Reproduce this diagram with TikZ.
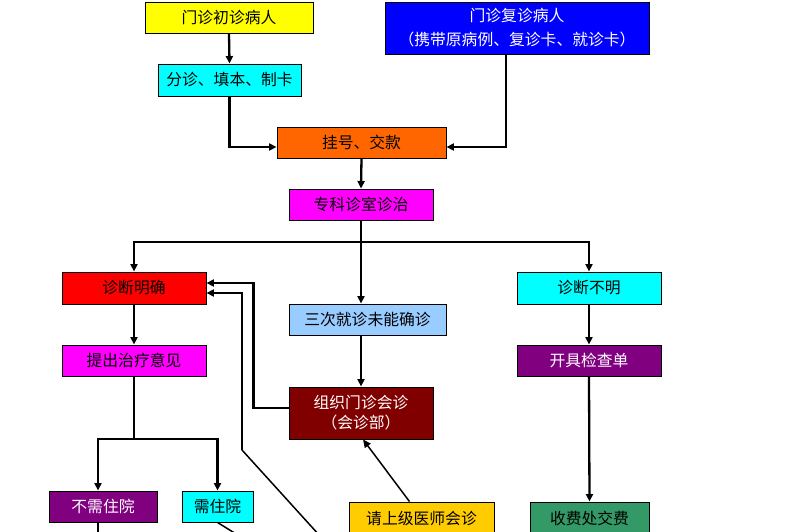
\documentclass[tikz,border=0pt]{standalone}
\usepackage{fontspec}
\newfontfamily\cjk{Noto Sans CJK SC}
\usetikzlibrary{arrows.meta}
\definecolor{cyellow}{HTML}{FFFF00}
\definecolor{ccyan}{HTML}{00FFFF}
\definecolor{corange}{HTML}{FF6600}
\definecolor{cmagenta}{HTML}{FF00FF}
\definecolor{cblue}{HTML}{0000FF}
\definecolor{cred}{HTML}{FF0000}
\definecolor{clightblue}{HTML}{99CCFF}
\definecolor{cpurple}{HTML}{800080}
\definecolor{cdarkred}{HTML}{800000}
\definecolor{cgold}{HTML}{FFCC00}
\definecolor{cgreen}{HTML}{339966}
\begin{document}
\begin{tikzpicture}[x=1pt,y=-1pt,
  box/.style={draw=black, line width=0.9pt, inner sep=0pt, align=center,
    font=\cjk\fontsize{15.8pt}{20pt}\selectfont, text=black},
  wtext/.style={text=white},
  conn/.style={line width=2.3pt, draw=black},
  arr/.style={conn, -{Triangle[length=7.5pt,width=7pt]}},
  thin/.style={line width=1.5pt, draw=black},
  thinarr/.style={thin, -{Triangle[length=8pt,width=7pt]}}
]
\useasboundingbox (0,0) rectangle (793,532);
\fill[white] (0,0) rectangle (793,532);
\clip (0,0) rectangle (793,532);

\node[box, fill=cyellow, minimum width=168pt, minimum height=31pt] (first) at (229,17.5) {门诊初诊病人};
\node[box, fill=cblue, wtext, minimum width=264pt, minimum height=52pt, font=\cjk\fontsize{15.8pt}{24pt}\selectfont] (ret) at (517,28) {门诊复诊病人\\（携带原病例、复诊卡、就诊卡）};
\node[box, fill=ccyan, minimum width=143pt, minimum height=32pt] (triage) at (229.5,80) {分诊、填本、制卡};
\node[box, fill=corange, minimum width=169pt, minimum height=31pt] (reg) at (361.5,142.5) {挂号、交款};
\node[box, fill=cmagenta, minimum width=144pt, minimum height=31pt] (spec) at (361,204.5) {专科诊室诊治};
\node[box, fill=cred, minimum width=144pt, minimum height=32pt] (clear) at (134,288) {诊断明确};
\node[box, fill=clightblue, minimum width=157pt, minimum height=31pt] (three) at (367.5,319.5) {三次就诊未能确诊};
\node[box, fill=ccyan, minimum width=144pt, minimum height=32pt] (unclear) at (589,288) {诊断不明};
\node[box, fill=cmagenta, minimum width=144pt, minimum height=31pt] (treat) at (134,360.5) {提出治疗意见};
\node[box, fill=cpurple, wtext, minimum width=144pt, minimum height=31pt] (exam) at (589,360.5) {开具检查单};
\node[box, fill=cdarkred, wtext, minimum width=144pt, minimum height=52pt] (org) at (361,413) {组织门诊会诊\\（会诊部）};
\node[box, fill=cpurple, wtext, minimum width=108pt, minimum height=31pt] (nohosp) at (103,506.5) {不需住院};
\node[box, fill=ccyan, minimum width=71pt, minimum height=31pt] (hosp) at (217.5,506.5) {需住院};
\node[box, fill=cgold, minimum width=145pt, minimum height=32pt] (ask) at (421.5,518) {请上级医师会诊};
\node[box, fill=cgreen, minimum width=119pt, minimum height=32pt] (pay) at (589.5,518) {收费处交费};

\coordinate (sp) at (361,242);
\coordinate (ts) at (134,439);
\coordinate (d0) at (320,536);
\coordinate (d1) at (242,450);
\coordinate (h1) at (241,537);

\draw[arr] (first.south) -- (triage.north);
\draw[arr] (triage.south) |- ([yshift=-4.5pt]reg.west);
\draw[arr] ([xshift=-11pt]ret.south) |- ([yshift=-4.5pt]reg.east);
\draw[arr] (reg.south) -- (spec.north);
\draw[conn] (spec.south) -- (sp);
\draw[arr] (sp) -| (clear.north);
\draw[arr] (sp) -| (unclear.north);
\draw[arr] (sp) -- (sp |- three.north);
\draw[arr] (clear.south) -- (treat.north);
\draw[conn] (treat.south) -- (ts);
\draw[arr] (ts) -| ([xshift=-5pt]nohosp.north);
\draw[arr] (ts) -| (hosp.north);
\draw[arr] (org.north |- three.south) -- (org.north);
\draw[arr] ([yshift=5pt]org.west) -- ++(-35,0) |- ([yshift=5pt]clear.east);
\draw[thin] (d0) -- (d1);
\draw[arr] (d1) |- ([yshift=-5pt]clear.east);
\draw[conn] ([xshift=-5pt]nohosp.south) -- ++(0,16);
\draw[thin] (hosp.south) -- (h1);
\draw[thinarr] ([xshift=-12pt]ask.north) -- ([xshift=2pt]org.south);
\draw[arr] (unclear.south) -- (exam.north);
\draw[arr] (exam.south) -- (pay.north);
\end{tikzpicture}
\end{document}
